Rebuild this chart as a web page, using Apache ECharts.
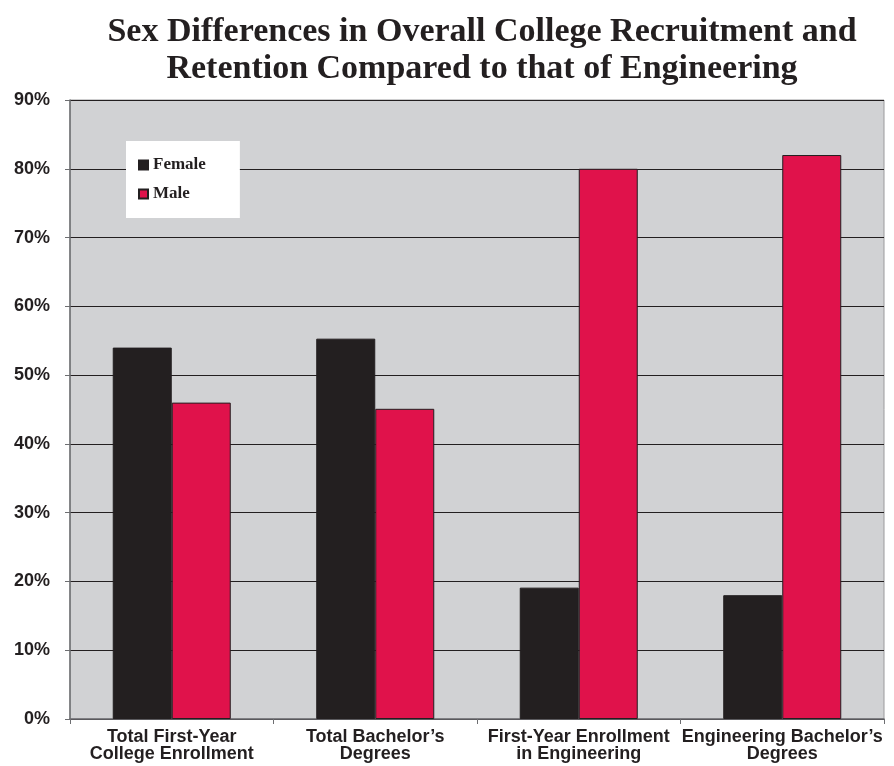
<!DOCTYPE html>
<html><head><meta charset="utf-8">
<script src="https://cdn.jsdelivr.net/npm/echarts@6/dist/echarts.min.js"></script>
<style>html,body{margin:0;padding:0;background:#fff}#c{width:894px;height:766px}</style>
</head><body><div id="c"></div>
<script>
const categories = ["Total First-Year\nCollege Enrollment", "Total Bachelor’s\nDegrees", "First-Year Enrollment\nin Engineering", "Engineering Bachelor’s\nDegrees"];
const femaleValues = [54, 55.3, 19.1, 18];
const maleValues = [46, 45.1, 80, 82];
const yTicks = [0, 10, 20, 30, 40, 50, 60, 70, 80, 90];

const chart = echarts.init(document.getElementById('c'));
chart.setOption({
  animation: false,
  backgroundColor: '#ffffff',
  title: {
    text: 'Sex Differences in Overall College Recruitment and\nRetention Compared to that of Engineering',
    left: 477, textAlign: 'center', top: 9,
    textStyle: { fontFamily: 'Liberation Serif', fontWeight: 'bold', fontSize: 34, lineHeight: 37, color: '#231f20' }
  },
  legend: {
    orient: 'vertical', left: 126, top: 141,
    backgroundColor: '#ffffff',
    padding: [15, 34, 15, 12],
    itemGap: 11, itemWidth: 9, itemHeight: 9, icon: 'rect',
    textStyle: { fontFamily: 'Liberation Serif', fontWeight: 'bold', fontSize: 17, lineHeight: 18, color: '#231f20' },
    data: ['Female', 'Male']
  },
  grid: { left: 70, right: 10, top: 100, bottom: 47, containLabel: false,
    show: true, backgroundColor: '#d1d2d4', borderColor: '#9a9a9c', borderWidth: 1 },
  xAxis: {
    type: 'category', data: categories,
    axisLine: { lineStyle: { color: '#6d6e71', width: 1.5 } },
    axisTick: { show: true, length: 5, lineStyle: { color: '#6d6e71' } },
    axisLabel: { interval: 0, margin: 10, fontFamily: 'Liberation Sans', fontWeight: 'bold', fontSize: 18, lineHeight: 17, color: '#231f20' }
  },
  yAxis: {
    type: 'value', min: 0, max: 90, interval: 10,
    axisLine: { show: true, lineStyle: { color: '#6d6e71', width: 1.5 } },
    axisTick: { show: true, length: 5, lineStyle: { color: '#6d6e71' } },
    splitLine: { lineStyle: { color: '#231f20', width: 1.2 } },
    axisLabel: { margin: 20, fontFamily: 'Liberation Sans', fontWeight: 'bold', fontSize: 18, color: '#231f20',
      formatter: v => yTicks.includes(v) ? v + '%' : '' }
  },
  series: [
    { name: 'Female', type: 'bar', data: femaleValues, barWidth: '29%', barGap: '0%',
      itemStyle: { color: '#231f20', borderColor: '#231f20', borderWidth: 1 } },
    { name: 'Male', type: 'bar', data: maleValues, barWidth: '29%', barGap: '0%',
      itemStyle: { color: '#e0124b', borderColor: '#231f20', borderWidth: 1 } }
  ]
});
</script></body></html>
